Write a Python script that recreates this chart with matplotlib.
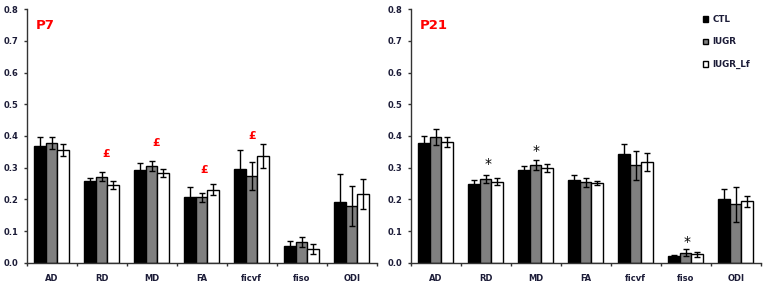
import numpy as np
from matplotlib import pyplot as plt
from matplotlib import ticker as tick

categories = ['AD', 'RD', 'MD', 'FA', 'ficvf', 'fiso', 'ODI']
groups = ['CTL', 'IUGR', 'IUGR_Lf']

# P7 values
p7_ctl = [0.369, 0.259, 0.294, 0.208, 0.297, 0.053, 0.193]
p7_ctl_err = [0.029, 0.009, 0.020, 0.032, 0.059, 0.017, 0.088]
p7_iugr = [0.378, 0.271, 0.305, 0.206, 0.274, 0.065, 0.180]
p7_iugr_err = [0.019, 0.014, 0.015, 0.015, 0.045, 0.016, 0.063]
p7_lf = [0.357, 0.246, 0.284, 0.231, 0.336, 0.043, 0.217]
p7_lf_err = [0.019, 0.013, 0.012, 0.018, 0.038, 0.015, 0.046]

# P21 values
p21_ctl = [0.379, 0.249, 0.293, 0.261, 0.342, 0.020, 0.202]
p21_ctl_err = [0.021, 0.012, 0.012, 0.015, 0.034, 0.004, 0.030]
p21_iugr = [0.396, 0.264, 0.308, 0.254, 0.307, 0.031, 0.185]
p21_iugr_err = [0.025, 0.013, 0.016, 0.014, 0.045, 0.011, 0.055]
p21_lf = [0.381, 0.256, 0.300, 0.251, 0.317, 0.027, 0.194]
p21_lf_err = [0.017, 0.011, 0.013, 0.006, 0.029, 0.008, 0.018]

# significance marks: (x, y, symbol)
p7_marks = [(1.09, 0.342, '£'), (2.09, 0.377, '£'), (3.04, 0.293, '£'), (4.0, 0.401, '£')]
p21_marks = [(1.04, 0.312, '*'), (2.01, 0.353, '*'), (5.02, 0.064, '*')]

colors = ['black', '#808080', 'white']
label_color = '#1c1c38'


def draw_panel(ax, title, series, errors, marks, mark_color, legend=False):
    x = np.arange(len(categories))
    w = 0.23
    for i, (vals, errs) in enumerate(zip(series, errors)):
        ax.bar(x + (i - 1) * w, vals, w, color=colors[i], edgecolor='black',
               linewidth=1.0, label=groups[i],
               yerr=errs, error_kw=dict(ecolor='black', elinewidth=1.0, capsize=2.2, capthick=1.0))

    ax.set_xlim(-0.5, len(categories) - 0.5)
    ax.set_ylim(0, 0.8)
    ax.spines['top'].set_visible(False)
    ax.spines['right'].set_visible(False)
    for s in ['left', 'bottom']:
        ax.spines[s].set_color('#333333')
        ax.spines[s].set_linewidth(1.0)

    ax.yaxis.set_major_locator(tick.MultipleLocator(0.1))
    ax.yaxis.set_major_formatter(tick.FormatStrFormatter('%.1f'))
    ax.tick_params(axis='y', direction='out', length=2.5, width=1.0, pad=3.5,
                   labelsize=6, labelcolor=label_color, color='#333333')

    ax.set_xticks(np.arange(len(categories) + 1) - 0.5)
    ax.set_xticklabels([])
    ax.set_xticks(x, minor=True)
    ax.set_xticklabels(categories, minor=True)
    ax.tick_params(axis='x', which='major', direction='out', length=2.5, width=1.0, color='#333333')
    ax.tick_params(axis='x', which='minor', length=0, pad=8, labelsize=6, labelcolor=label_color)
    for lab in ax.get_yticklabels() + ax.get_xticklabels(minor=True):
        lab.set_fontweight('bold')

    ax.text(-0.31, 0.75, title, color='red', fontsize=9.5, fontweight='bold', va='center', ha='left')

    for mx, my, sym in marks:
        if sym == '*':
            ax.text(mx, my, sym, color='black', fontsize=10, ha='center', va='center')
        else:
            ax.text(mx, my, sym, color=mark_color, fontsize=8, fontweight='bold', ha='center', va='center')

    if legend:
        ax.legend(loc='upper left', bbox_to_anchor=(0.835, 0.978), frameon=False,
                  borderpad=0, borderaxespad=0, handlelength=0.6, handleheight=0.6,
                  handletextpad=0.45, labelspacing=1.55,
                  prop=dict(size=6.3, weight='bold'), labelcolor=label_color)


fig = plt.figure(figsize=(7.66, 2.88), dpi=100)
ax1 = fig.add_axes([26.7 / 766, 0.0878, 350 / 766, 0.88])
ax2 = fig.add_axes([410.7 / 766, 0.0878, 350 / 766, 0.88])

draw_panel(ax1, 'P7', [p7_ctl, p7_iugr, p7_lf], [p7_ctl_err, p7_iugr_err, p7_lf_err], p7_marks, 'red')
draw_panel(ax2, 'P21', [p21_ctl, p21_iugr, p21_lf], [p21_ctl_err, p21_iugr_err, p21_lf_err], p21_marks, 'black', legend=True)

plt.savefig('out.png', dpi=100)
